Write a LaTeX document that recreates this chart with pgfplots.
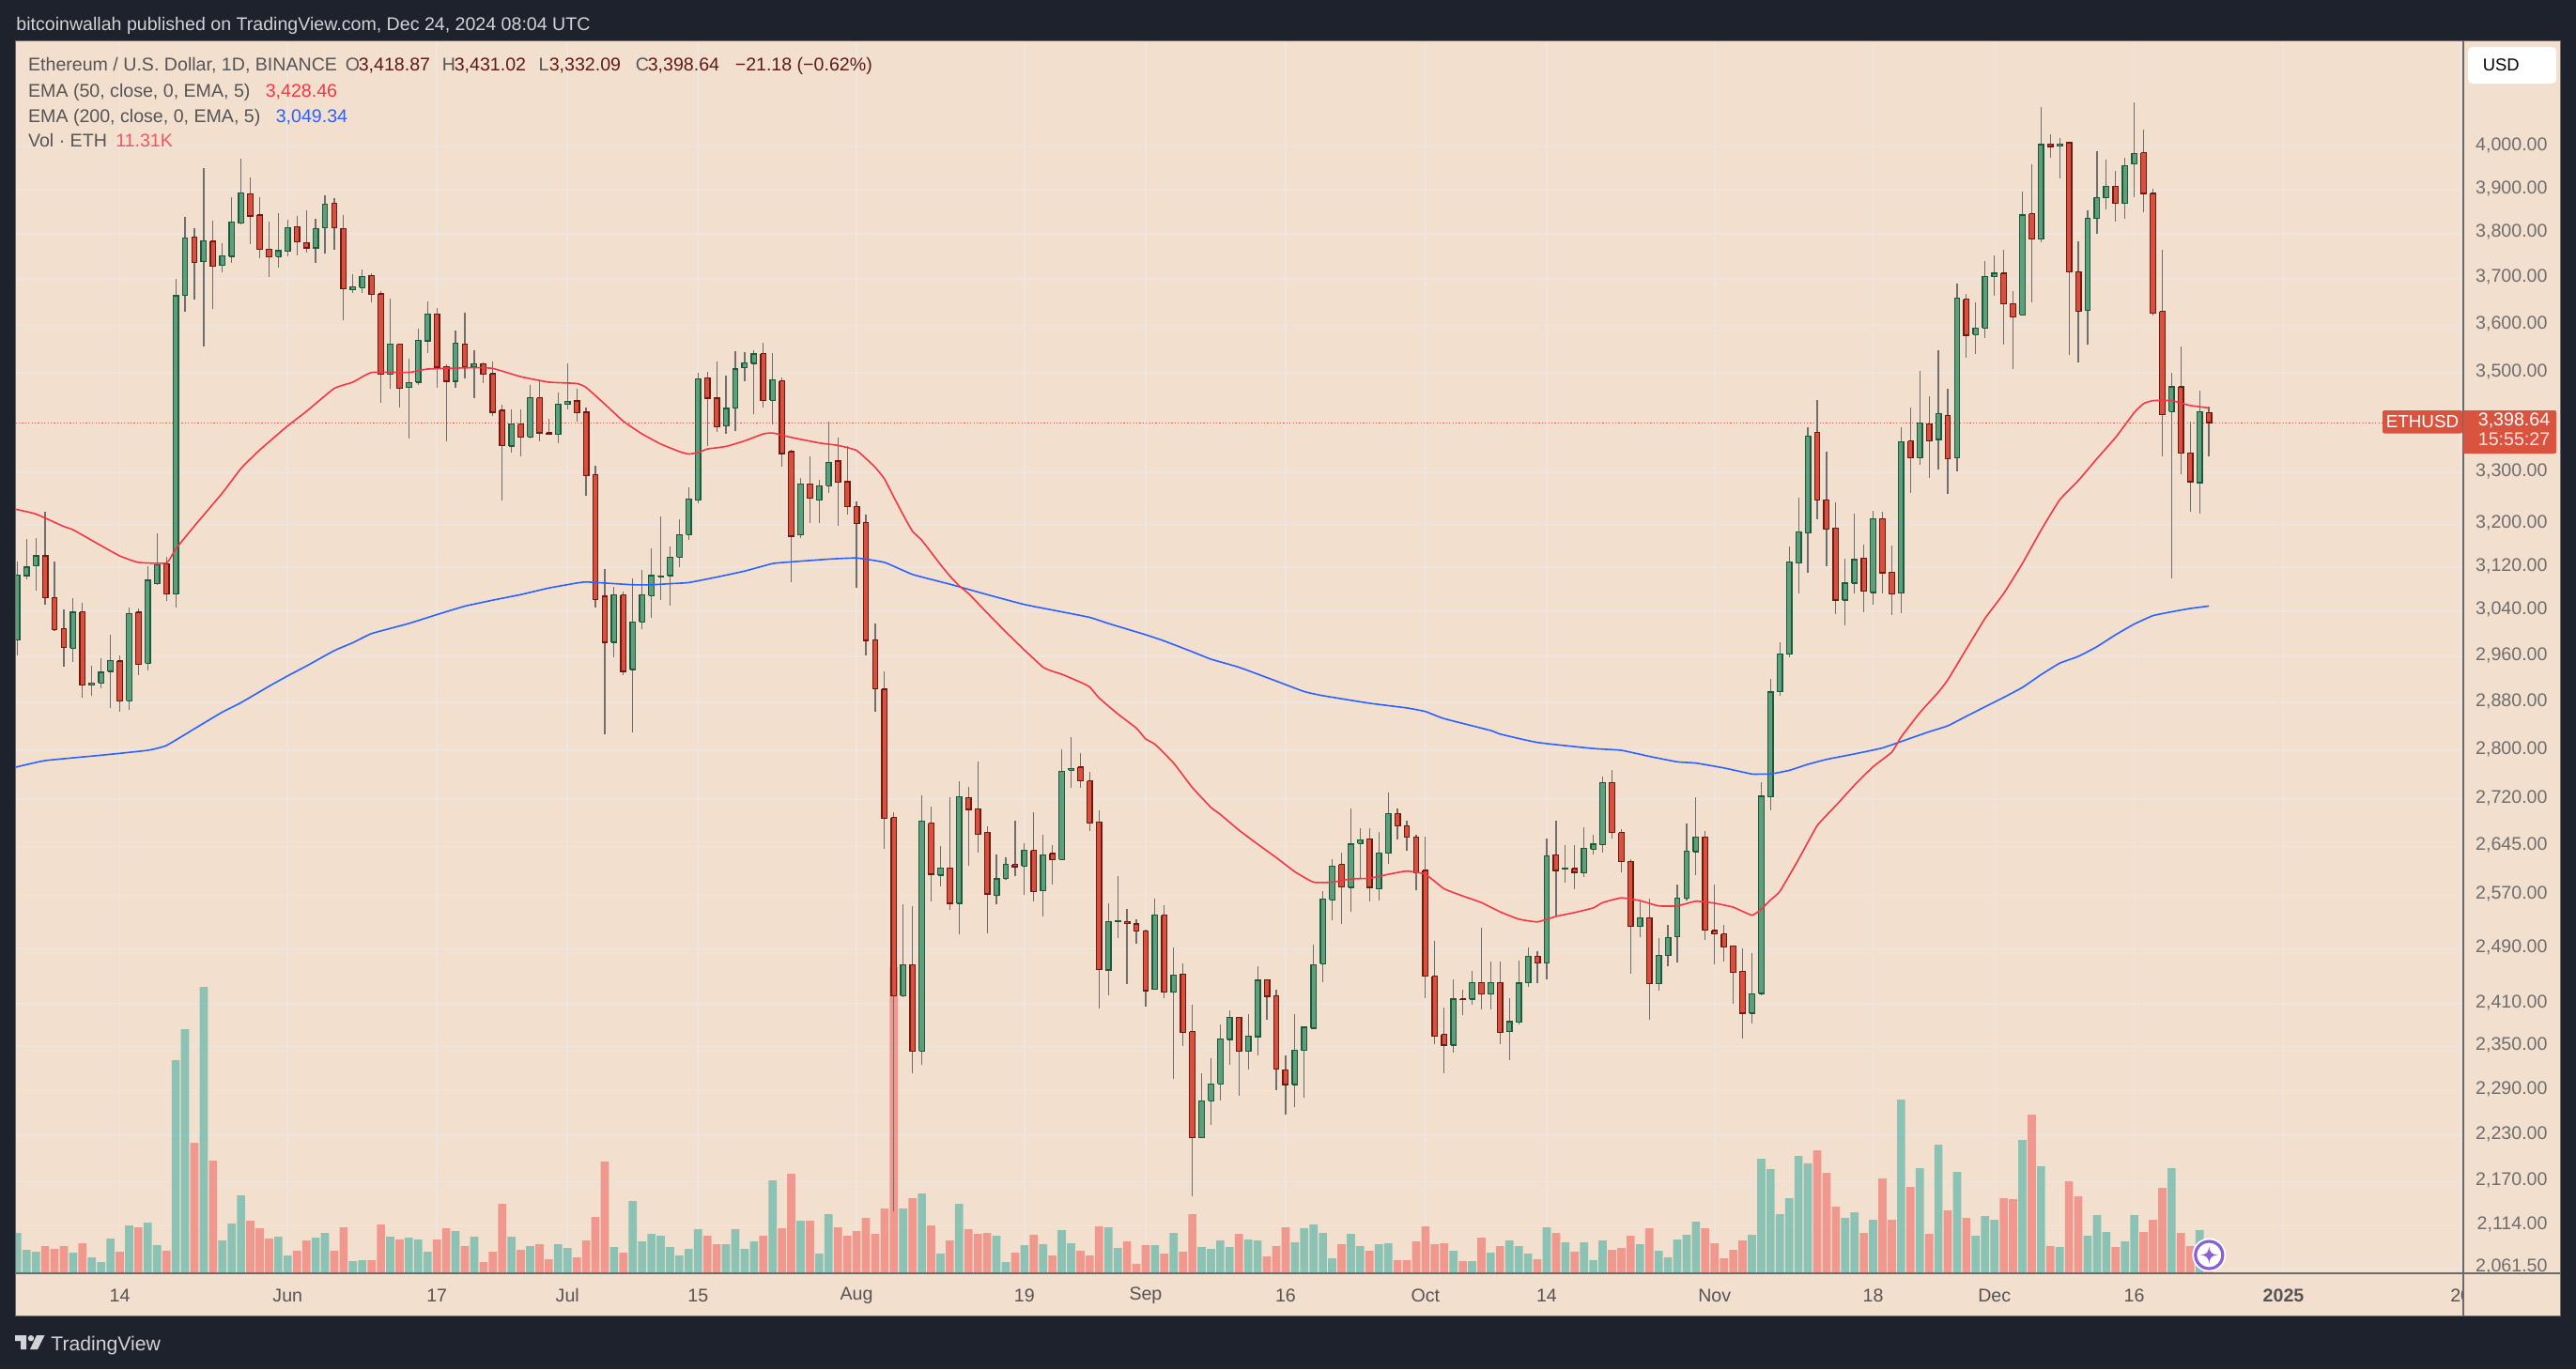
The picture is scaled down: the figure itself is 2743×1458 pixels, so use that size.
\documentclass[border=0pt]{standalone}
\usepackage{fontspec}
\setmainfont{Liberation Sans}
\usepackage{pgfplots}
\usepackage{pgfplotstable}
\pgfplotsset{compat=1.18}
\definecolor{frame}{HTML}{1E222D}
\definecolor{pane}{HTML}{F2DFCE}
\definecolor{gridc}{HTML}{EDE5DE}
\definecolor{gf}{HTML}{5F9E7D}
\definecolor{gd}{HTML}{1B5B3C}
\definecolor{rf}{HTML}{D9503F}
\definecolor{rd}{HTML}{6E1A12}
\definecolor{wick}{HTML}{6E6E6E}
\definecolor{vg}{HTML}{26A69A}
\definecolor{vr}{HTML}{EF5350}
\definecolor{ema50}{HTML}{F23645}
\definecolor{ema200}{HTML}{2962FF}
\definecolor{lab}{HTML}{555555}
\definecolor{ax}{HTML}{6A6A6A}
\definecolor{pricebox}{HTML}{D9533F}
\definecolor{ohlc}{HTML}{5D1B14}
\makeatletter
\newcommand\dnum[1]{\strip@pt#1}
\makeatother
\newcount\candleidx
\newdimen\candlex
% day index (0 = 3 May 2024), open, high, low, close, volume (bar height, about 3K ETH per unit)
\pgfplotstableread{
i o h l c v
0 2989 3131 2961 3106 43
1 3105 3173 3098 3120 25
2 3123 3175 3078 3141 23
3 3141 3224 3051 3064 29
4 3064 3131 3005 3007 26
5 3009 3043 2942 2976 29
6 2974 3063 2951 3038 22
7 3039 3055 2888 2910 32
8 2910 2944 2891 2914 17
9 2914 2957 2904 2932 12
10 2934 2998 2871 2953 37
11 2952 2962 2865 2883 23
12 2883 3047 2867 3036 51
13 3038 3045 2928 2946 49
14 2948 3122 2936 3096 54
15 3090 3183 3088 3125 30
16 3126 3140 3059 3071 24
17 3071 3700 3047 3663 227
18 3665 3838 3630 3791 260
19 3793 3813 3656 3736 139
20 3738 3951 3556 3784 305
21 3783 3830 3634 3728 120
22 3730 3779 3714 3751 35
23 3750 3883 3736 3827 53
24 3824 3973 3822 3893 83
25 3891 3928 3776 3841 56
26 3843 3883 3746 3765 48
27 3766 3828 3705 3749 37
28 3749 3847 3726 3762 39
29 3761 3831 3750 3814 19
30 3816 3840 3753 3782 24
31 3780 3853 3759 3768 35
32 3768 3834 3736 3812 38
33 3814 3887 3757 3867 43
34 3870 3881 3765 3814 24
35 3812 3842 3610 3679 49
36 3676 3710 3669 3683 13
37 3681 3721 3670 3706 14
38 3708 3713 3648 3666 14
39 3667 3674 3438 3497 52
40 3497 3658 3467 3560 39
41 3560 3562 3430 3468 36
42 3470 3529 3366 3480 38
43 3481 3593 3475 3568 36
44 3567 3651 3542 3624 23
45 3624 3637 3470 3512 36
46 3513 3517 3362 3483 48
47 3483 3589 3470 3562 45
48 3560 3627 3489 3513 29
49 3513 3546 3449 3519 39
50 3519 3521 3479 3497 12
51 3498 3524 3411 3420 23
52 3423 3435 3245 3353 74
53 3352 3426 3338 3396 39
54 3396 3425 3331 3370 25
55 3370 3475 3366 3449 29
56 3449 3485 3362 3378 31
57 3378 3406 3374 3375 15
58 3375 3460 3357 3436 31
59 3436 3519 3425 3441 27
60 3442 3467 3401 3418 17
61 3420 3430 3254 3294 35
62 3296 3313 3047 3061 60
63 3067 3116 2826 2985 119
64 2985 3084 2959 3070 28
65 3069 3076 2927 2934 22
66 2937 3099 2830 3021 77
67 3021 3115 3008 3069 34
68 3068 3156 3029 3105 42
69 3103 3215 3060 3104 40
70 3105 3159 3050 3138 28
71 3139 3210 3120 3180 19
72 3181 3271 3170 3249 26
73 3246 3500 3240 3488 47
74 3490 3503 3352 3448 40
75 3448 3524 3379 3391 31
76 3392 3494 3376 3427 31
77 3428 3545 3381 3508 47
78 3511 3543 3484 3521 26
79 3520 3547 3415 3539 34
80 3540 3563 3430 3444 40
81 3444 3541 3396 3486 99
82 3484 3491 3312 3337 48
83 3341 3345 3092 3178 106
84 3180 3289 3174 3278 56
85 3278 3332 3203 3250 56
86 3246 3286 3203 3274 21
87 3274 3401 3261 3320 63
88 3322 3369 3198 3281 49
89 3282 3352 3218 3234 40
90 3234 3244 3082 3202 45
91 3204 3218 2962 2988 59
92 2989 3018 2865 2904 42
93 2903 2934 2642 2690 69
94 2691 2699 2132 2422 326
95 2422 2557 2420 2466 69
96 2467 2553 2313 2344 80
97 2344 2726 2325 2685 85
98 2682 2708 2560 2602 51
99 2601 2646 2583 2612 21
100 2612 2724 2548 2558 35
101 2558 2750 2511 2724 74
102 2723 2740 2615 2704 47
103 2705 2781 2636 2664 42
104 2667 2677 2513 2572 43
105 2570 2632 2557 2595 40
106 2596 2628 2593 2617 12
107 2617 2686 2599 2614 22
108 2615 2650 2571 2639 30
109 2639 2699 2560 2576 41
110 2577 2664 2538 2632 31
111 2634 2648 2587 2625 19
112 2625 2802 2624 2765 46
113 2767 2822 2738 2770 32
114 2772 2795 2739 2750 24
115 2750 2765 2669 2682 19
116 2684 2702 2404 2460 50
117 2459 2558 2423 2530 49
118 2530 2599 2506 2531 27
119 2530 2549 2438 2528 34
120 2527 2534 2497 2516 10
121 2516 2518 2406 2429 30
122 2431 2565 2430 2540 30
123 2540 2555 2418 2427 21
124 2427 2492 2306 2452 43
125 2453 2469 2351 2370 23
126 2371 2409 2151 2227 63
127 2227 2313 2226 2276 28
128 2276 2334 2244 2299 26
129 2299 2381 2277 2361 35
130 2360 2401 2325 2391 28
131 2391 2392 2283 2344 42
132 2344 2395 2319 2365 36
133 2364 2464 2338 2444 35
134 2445 2446 2388 2421 18
135 2422 2431 2291 2319 29
136 2318 2338 2257 2298 49
137 2298 2396 2267 2345 33
138 2345 2379 2280 2377 48
139 2376 2496 2375 2467 52
140 2468 2576 2441 2564 43
141 2563 2625 2533 2615 16
142 2617 2635 2527 2583 31
143 2582 2706 2545 2649 42
144 2650 2674 2595 2656 29
145 2657 2674 2560 2582 24
146 2580 2668 2562 2635 31
147 2635 2731 2618 2697 32
148 2697 2706 2656 2678 14
149 2678 2686 2638 2660 14
150 2660 2664 2578 2604 34
151 2608 2661 2419 2450 50
152 2450 2501 2354 2365 31
153 2367 2405 2314 2352 32
154 2352 2446 2342 2417 24
155 2417 2431 2394 2416 13
156 2417 2458 2409 2441 13
157 2441 2521 2403 2424 38
158 2424 2472 2403 2441 22
159 2441 2472 2354 2370 29
160 2371 2418 2332 2385 35
161 2384 2473 2381 2440 29
162 2441 2492 2435 2479 21
163 2479 2486 2440 2469 15
164 2469 2658 2445 2631 49
165 2632 2686 2540 2608 43
166 2610 2648 2590 2611 33
167 2611 2648 2579 2605 23
168 2604 2676 2598 2642 33
169 2641 2664 2632 2649 14
170 2648 2757 2636 2747 35
171 2747 2767 2657 2667 25
172 2667 2672 2605 2622 27
173 2622 2626 2453 2523 40
174 2523 2562 2507 2536 31
175 2536 2565 2388 2439 48
176 2439 2506 2429 2480 24
177 2480 2525 2465 2507 17
178 2508 2587 2470 2566 36
179 2566 2681 2562 2638 41
180 2637 2724 2601 2660 55
181 2660 2670 2503 2518 48
182 2517 2587 2467 2512 32
183 2512 2525 2472 2493 16
184 2494 2495 2411 2456 25
185 2457 2490 2361 2397 35
186 2397 2484 2382 2424 41
187 2425 2748 2423 2725 122
188 2724 2921 2703 2898 111
189 2899 2985 2891 2964 63
190 2964 3158 2959 3130 80
191 3128 3251 3072 3186 125
192 3184 3389 3110 3372 117
193 3379 3445 3210 3246 131
194 3247 3341 3122 3191 107
195 3193 3242 3035 3060 71
196 3060 3136 3015 3091 59
197 3091 3221 3073 3134 65
198 3137 3163 3039 3076 43
199 3074 3226 3051 3211 57
200 3211 3224 3072 3110 101
201 3111 3161 3034 3071 57
202 3073 3389 3036 3360 185
203 3362 3429 3261 3329 92
204 3329 3504 3315 3398 112
205 3396 3452 3290 3362 42
206 3365 3548 3305 3416 137
207 3413 3467 3259 3327 67
208 3329 3690 3303 3658 108
209 3656 3667 3532 3579 59
210 3580 3649 3540 3594 40
211 3594 3740 3573 3705 61
212 3705 3751 3664 3712 57
213 3712 3764 3560 3646 80
214 3646 3673 3507 3618 79
215 3622 3896 3620 3843 142
216 3846 3960 3648 3788 169
217 3788 4095 3780 4005 114
218 4006 4030 3975 4001 29
219 4002 4020 3927 4006 28
220 4010 4011 3538 3716 98
221 3716 3783 3522 3630 82
222 3632 3853 3560 3835 40
223 3835 3990 3800 3882 62
224 3882 3970 3855 3908 44
225 3908 3944 3827 3869 28
226 3869 3974 3834 3956 34
227 3960 4107 3883 3985 62
228 3987 4042 3850 3892 44
229 3892 3902 3620 3626 57
230 3630 3764 3332 3415 91
231 3421 3500 3099 3471 112
232 3471 3555 3296 3338 43
233 3338 3400 3225 3282 29
234 3280 3464 3220 3421 46
235 3418.87 3431.02 3332.09 3398.64 3.8
}\ohlctab
\pgfplotstableread{
i p
-0.2 3229
2 3220
5 3196
6 3190
9 3160
11 3141
13 3129
16 3128
17 3154
19 3197
22 3260
24 3308
26 3344
29 3392
31 3421
34 3468
36 3481
38 3501
42 3501
44 3508
49 3511
51 3509
54 3492
57 3481
60 3478
61 3470
63 3436
65 3401
67 3376
69 3356
71 3341
72 3336
73 3339
74 3346
76 3351
78 3362
80 3376
81 3378
83 3369
86 3358
88 3353
90 3343
92 3310
93 3287
94 3252
95 3218
96 3187
97 3170
99 3125
100 3104
101 3086
102 3072
104 3037
106 3003
108 2971
110 2941
111 2934
112 2929
114 2915
115 2907
116 2888
118 2861
120 2837
121 2819
122 2810
124 2779
126 2739
128 2707
129 2696
131 2671
133 2649
135 2628
137 2606
139 2590
141 2590
143 2595
145 2596
147 2602
149 2607
151 2602
153 2580
155 2569
157 2559
159 2545
161 2534
163 2530
165 2538
167 2544
169 2551
170 2559
172 2566
174 2562
176 2554
178 2554
180 2561
182 2558
184 2552
186 2540
187 2549
188 2563
189 2576
191 2625
193 2678
195 2710
197 2743
199 2773
201 2797
202 2822
204 2863
206 2898
207 2919
209 2973
211 3027
213 3072
215 3127
217 3189
219 3247
221 3284
223 3327
225 3369
227 3419
228 3437
229 3443
231 3443
233 3433
235 3428.46
}\Ea
\pgfplotstableread{
i p
-0.2 2772
3 2783
9 2792
14 2800
16 2808
19 2836
22 2864
24 2880
27 2908
29 2926
31 2943
34 2970
36 2984
38 3000
42 3018
45 3034
48 3049
51 3060
54 3070
57 3082
60 3091
61 3093
63 3091
66 3088
68 3088
70 3090
72 3092
75 3102
78 3113
81 3127
83 3130
87 3135
90 3137
93 3129
96 3107
100 3089
104 3070
108 3052
112 3039
115 3029
117 3018
121 2998
123 2987
126 2968
128 2955
131 2941
135 2917
138 2899
140 2892
145 2879
149 2871
151 2865
153 2853
158 2833
159 2827
163 2813
169 2803
172 2800
175 2790
178 2781
180 2779
183 2771
186 2761
187 2761
188 2761
190 2767
192 2777
194 2785
197 2794
200 2804
203 2820
205 2831
207 2841
209 2857
211 2873
213 2889
215 2906
217 2928
219 2948
221 2960
223 2977
225 2998
227 3017
229 3032
231 3039
233 3045
235 3049.34
}\Eb
\newcommand\fs[1]{\fontsize{#1}{#1}\selectfont}
\pgfplotsset{chart/.style={
  scale only axis, width=651.525pt, height=328.1pt,
  at={(4.15pt,-339pt)}, anchor=south west,
  xmin=-0.171, xmax=262.25,
}}
\begin{document}
\begin{tikzpicture}
\begin{scope}[x=0.25pt,y=-0.25pt]
\useasboundingbox (0,0) rectangle (2743,1458);
\fill[frame] (0,0) rectangle (2743,1458);
\fill[pane] (16.6,43.6) rectangle (2726.7,1401);
\end{scope}
% price scale: grid and labels
\begin{axis}[chart, ymode=log, log basis y=10, ymin=2055.6, ymax=4259,
  axis line style={draw=none}, major tick length=0pt, yminorticks=false,
  xtick={11,29,45,59,73,90,108,121,136,151,164,182,199,212,227,243,262},
  xticklabels={14,Jun,17,Jul,15,Aug,19,Sep,16,Oct,14,Nov,18,Dec,16,\textbf{2025},20},
  xticklabel style={anchor=center, yshift=-6pt, text=lab, font=\fs{4.9pt}},
  ytick={4000,3900,3800,3700,3600,3500,3300,3200,3120,3040,2960,2880,2800,2720,2645,2570,2490,2410,2350,2290,2230,2170,2114,2061.5},
  yticklabels={{4,000.00},{3,900.00},{3,800.00},{3,700.00},{3,600.00},{3,500.00},{3,300.00},{3,200.00},{3,120.00},{3,040.00},{2,960.00},{2,880.00},{2,800.00},{2,720.00},{2,645.00},{2,570.00},{2,490.00},{2,410.00},{2,350.00},{2,290.00},{2,230.00},{2,170.00},{2,114.00},{2,061.50}},
  ytick pos=right, yticklabel pos=right,
  yticklabel style={anchor=east, xshift=22.65pt, yshift=0.4pt, inner sep=0pt, text=lab!85!white, font=\fs{4.9pt}},
  xmajorgrids, ymajorgrids, grid style={gridc, line width=0.4pt},
]
\addplot[draw=none] coordinates {(0,3000)};
\end{axis}
% volume
\begin{axis}[chart, ymin=0, ymax=1312.4, hide axis, clip=true]
\addplot[ybar, bar width=2.17pt, draw=none, fill=vg, fill opacity=0.5]
  table[x=i, y expr={\thisrow{c}>=\thisrow{o} ? \thisrow{v} : nan}] {\ohlctab};
\addplot[ybar, bar width=2.17pt, draw=none, fill=vr, fill opacity=0.5]
  table[x=i, y expr={\thisrow{c}<\thisrow{o} ? \thisrow{v} : nan}] {\ohlctab};
\end{axis}
% candles and averages
\begin{axis}[chart, ymode=log, log basis y=10, ymin=2055.6, ymax=4259, hide axis]
\addplot[vr, line width=0.28pt, dash pattern=on 0.3pt off 0.55pt] coordinates {(-0.171,3398.64) (262.25,3398.64)};
\candleidx=0
\loop
  \pgfplotstablegetelem{\the\candleidx}{o}\of\ohlctab \edef\vO{\pgfplotsretval}
  \pgfplotstablegetelem{\the\candleidx}{h}\of\ohlctab \edef\vH{\pgfplotsretval}
  \pgfplotstablegetelem{\the\candleidx}{l}\of\ohlctab \edef\vL{\pgfplotsretval}
  \pgfplotstablegetelem{\the\candleidx}{c}\of\ohlctab \edef\vC{\pgfplotsretval}
  \ifdim\vC pt<\vO pt
    \def\cF{rf}\def\cD{rd}
  \else
    \def\cF{gf}\def\cD{gd}
  \fi
  \candlex=\the\candleidx pt \advance\candlex by -0.28pt \edef\xL{\dnum\candlex}
  \candlex=\the\candleidx pt \advance\candlex by 0.28pt \edef\xR{\dnum\candlex}
  \edef\tmp{\noexpand\addplot[draw=wick, line width=0.3pt, forget plot] coordinates {(\the\candleidx,\vL) (\the\candleidx,\vH)};
    \noexpand\addplot[draw=\cD, fill=\cF, line width=0.33pt, line join=miter, forget plot] coordinates {(\xL,\vO) (\xR,\vO) (\xR,\vC) (\xL,\vC) (\xL,\vO)};}
  \tmp
  \advance\candleidx by 1
\ifnum\candleidx<236
\repeat
\addplot[ema200, line width=0.4pt, line join=round, smooth, tension=0.25] table[x=i,y=p] {\Eb};
\addplot[ema50, line width=0.4pt, line join=round, smooth, tension=0.25] table[x=i,y=p] {\Ea};
\end{axis}
\begin{scope}[x=0.25pt,y=-0.25pt]
% cover of the time label under the price scale, axis lines, frame
\fill[pane] (2623,1358) rectangle (2726.7,1400);
\draw[ax, line width=0.25pt] (16.6,43.6) rectangle (2726.7,1401);
\draw[ax, line width=0.45pt] (16.6,1356) -- (2726.7,1356);
\draw[ax, line width=0.45pt] (2622.7,43.6) -- (2622.7,1401);
% price tags
\fill[white, rounded corners=1.2pt] (2628,50) rectangle (2722,89);
\node[anchor=west, inner sep=0pt, text=black, font=\fs{4.6pt}] at (2643,69) {USD};
\fill[pricebox, rounded corners=0.5pt] (2537,437) rectangle (2622,461.5);
\fill[pricebox, rounded corners=0.5pt] (2623,437) rectangle (2722,483);
\node[anchor=center, inner sep=0pt, text=white, font=\fs{4.7pt}] at (2579.5,449.5) {ETHUSD};
\node[anchor=center, inner sep=0pt, text=white, font=\fs{4.9pt}] at (2677,447.7) {3,398.64};
\node[anchor=center, inner sep=0pt, text=white!85!pricebox, font=\fs{4.9pt}] at (2677,468) {15:55:27};
% header
\node[anchor=base west, inner sep=0pt, text=white!80!frame, font=\fs{4.9pt}] at (16.6,32.5) {bitcoinwallah published on TradingView.com, Dec 24, 2024 08:04 UTC};
\tikzset{leg/.style={anchor=base west, inner sep=0pt, font=\fs{4.9pt}}}
\node[leg, text=lab] at (29.3,75) {Ethereum / U.S. Dollar, 1D, BINANCE};
\node[leg, text=lab] at (367,75) {O};
\node[leg, text=ohlc] at (381,75) {3,418.87};
\node[leg, text=lab] at (470,75) {H};
\node[leg, text=ohlc] at (483,75) {3,431.02};
\node[leg, text=lab] at (572.7,75) {L};
\node[leg, text=ohlc] at (584,75) {3,332.09};
\node[leg, text=lab] at (676,75) {C};
\node[leg, text=ohlc] at (689,75) {3,398.64};
\node[leg, text=ohlc] at (782,75) {−21.18 (−0.62\%)};
\node[leg, text=lab] at (29.3,103) {EMA (50, close, 0, EMA, 5)};
\node[leg, text=ema50] at (282,103) {3,428.46};
\node[leg, text=lab] at (29.3,130) {EMA (200, close, 0, EMA, 5)};
\node[leg, text=ema200] at (293,130) {3,049.34};
\node[leg, text=lab] at (29.3,156) {Vol · ETH};
\node[leg, text=ema50!85!white] at (122.5,156) {11.31K};
% footer logo
\fill[white!80!frame] (16,1422) -- (28,1422) -- (28,1437) -- (22,1437) -- (22,1428) -- (16,1428) -- cycle;
\fill[white!80!frame] (33,1425.2) circle (3.2);
\fill[white!80!frame] (39,1422) -- (47.5,1422) -- (40,1437) -- (32,1437) -- cycle;
\node[anchor=base west, inner sep=0pt, text=white!80!frame, font=\fs{5.3pt}] at (53.6,1438) {TradingView};
% marker
\fill[white] (2352.3,1336.5) circle (18);
\draw[white!45!blue!85!red, line width=0.8pt] (2352.3,1336.5) circle (14.5);
\fill[white!45!blue!85!red] (2352.3,1327) .. controls (2353,1334) and (2355,1336) .. (2362,1336.5) .. controls (2355,1337) and (2353,1339) .. (2352.3,1346) .. controls (2351.6,1339) and (2349.6,1337) .. (2342.6,1336.5) .. controls (2349.6,1336) and (2351.6,1334) .. cycle;
\end{scope}
\end{tikzpicture}
\end{document}
